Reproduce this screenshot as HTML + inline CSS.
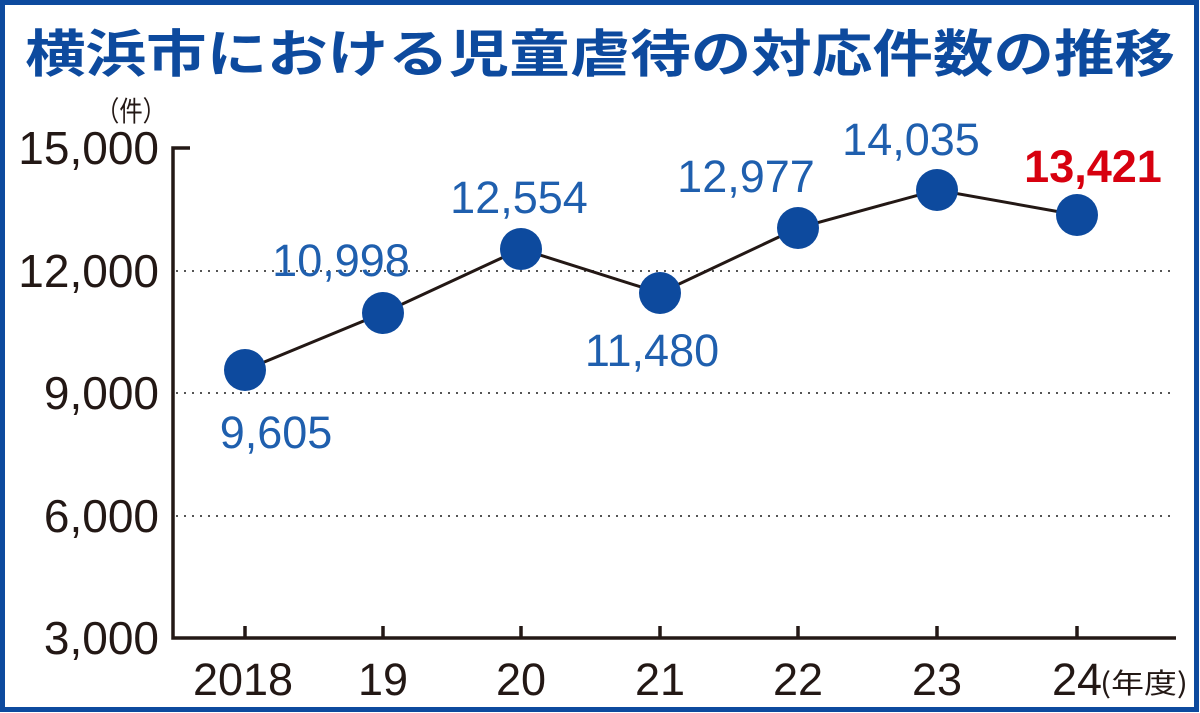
<!DOCTYPE html>
<html><head><meta charset="utf-8"><style>
html,body{margin:0;padding:0;background:#fff;}
svg{display:block;}
</style></head><body>
<svg width="1200" height="713" viewBox="0 0 1200 713" xmlns="http://www.w3.org/2000/svg">
<rect x="2.5" y="2.5" width="1194" height="707" fill="#fff" stroke="#0d4a9e" stroke-width="5"/>
<text x="600" y="72" text-anchor="middle" font-family="'Liberation Sans','Noto Sans CJK JP',sans-serif" font-weight="bold" font-size="51" fill="#0d4a9e" textLength="1150" lengthAdjust="spacingAndGlyphs">横浜市における児童虐待の対応件数の推移</text>
<g font-family="'Liberation Sans','Noto Sans CJK JP',sans-serif" fill="#231815">
<text x="96" y="121" font-family="'Noto Sans CJK JP',sans-serif" font-size="28" textLength="70" lengthAdjust="spacingAndGlyphs">（件）</text>
<g font-size="46" text-anchor="end">
<text x="159" y="164">15,000</text>
<text x="159" y="287">12,000</text>
<text x="159" y="409">9,000</text>
<text x="159" y="532">6,000</text>
<text x="159" y="654">3,000</text>
</g>
<g font-size="45" text-anchor="middle">
<text x="243" y="695">2018</text><text x="383" y="695">19</text><text x="521" y="695">20</text><text x="660" y="695">21</text><text x="798" y="695">22</text><text x="937" y="695">23</text><text x="1077" y="695">24</text>
</g>
<text x="1100" y="693" font-family="'Noto Sans CJK JP',sans-serif" font-size="28" textLength="88" lengthAdjust="spacingAndGlyphs">(年度)</text>
</g>
<g stroke="#555" stroke-width="2" stroke-dasharray="2,6">
<line x1="176" y1="271" x2="1176" y2="271"/>
<line x1="176" y1="393" x2="1176" y2="393"/>
<line x1="176" y1="516" x2="1176" y2="516"/>
</g>
<g stroke="#231815" stroke-width="3.5" fill="none">
<polyline points="190,148 173,148 173,638 1176,638"/>
<line x1="245" y1="626" x2="245" y2="638"/><line x1="383" y1="626" x2="383" y2="638"/><line x1="521" y1="626" x2="521" y2="638"/><line x1="660" y1="626" x2="660" y2="638"/><line x1="798" y1="626" x2="798" y2="638"/><line x1="937" y1="626" x2="937" y2="638"/><line x1="1077" y1="626" x2="1077" y2="638"/>
<polyline stroke-width="3" points="245,370 383,313 521,249 660,293 798,228 937,190 1077,215"/>
</g>
<g fill="#0d4a9e">
<circle cx="245" cy="370" r="21"/><circle cx="383" cy="313" r="21"/><circle cx="521" cy="249" r="21"/><circle cx="660" cy="293" r="21"/><circle cx="798" cy="228" r="21"/><circle cx="937" cy="190" r="21"/><circle cx="1077" cy="215" r="21"/>
</g>
<g font-family="'Liberation Sans',sans-serif" font-size="45" fill="#1f5fae" text-anchor="middle">
<text x="276" y="448">9,605</text>
<text x="341" y="276">10,998</text>
<text x="519" y="213">12,554</text>
<text x="652" y="366">11,480</text>
<text x="746" y="192">12,977</text>
<text x="911" y="155">14,035</text>
<text x="1093" y="182" fill="#d7000f" font-weight="bold">13,421</text>
</g>
</svg>
</body></html>
